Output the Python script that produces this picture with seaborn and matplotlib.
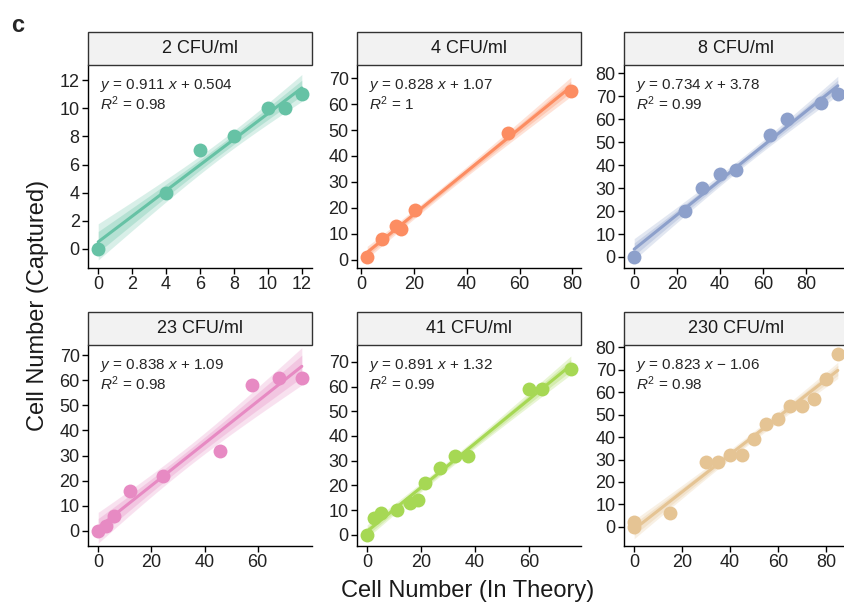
import math
import numpy as np
import pandas as pd
import matplotlib
matplotlib.use("Agg")
import matplotlib.pyplot as plt
from matplotlib.patches import Rectangle
import seaborn as sns

sns.set_style("white")
plt.rcParams['font.family'] = ['Liberation Sans', 'DejaVu Sans']
plt.rcParams['mathtext.fontset'] = 'custom'
plt.rcParams['mathtext.rm'] = 'Liberation Sans'
plt.rcParams['mathtext.it'] = 'Liberation Sans:italic'

# ---- data ----
titles = ["2 CFU/ml", "4 CFU/ml", "8 CFU/ml", "23 CFU/ml", "41 CFU/ml", "230 CFU/ml"]
colors = ["#66C2A5", "#FC8D62", "#8DA0CB", "#E78AC3", "#A6D854", "#E5C494"]
equations = [
    ("0.911", "+ 0.504", "0.98"),
    ("0.828", "+ 1.07", "1"),
    ("0.734", "+ 3.78", "0.99"),
    ("0.838", "+ 1.09", "0.98"),
    ("0.891", "+ 1.32", "0.99"),
    ("0.823", "\u2212 1.06", "0.98"),
]

x_2cfu = [0, 4, 6, 8, 10, 11, 12]
y_2cfu = [0, 4, 7, 8, 10, 10, 11]
x_4cfu = [2.3, 8, 13.3, 15, 20.3, 55.6, 79.4]
y_4cfu = [1, 8, 13, 12, 19, 49, 65]
x_8cfu = [0, 23.9, 31.7, 39.8, 47.3, 63.5, 71.3, 87, 94.9]
y_8cfu = [0, 20, 30, 36, 38, 53, 60, 67, 71]
x_23cfu = [0, 3, 6, 12, 24.5, 46, 58, 68, 76.6]
y_23cfu = [0, 2, 6, 16, 22, 32, 58, 61, 61]
x_41cfu = [0, 2.5, 5, 11, 16, 19, 21.5, 27, 32.5, 37.5, 60, 65, 75.5]
y_41cfu = [0, 7, 9, 10, 13, 14, 21, 27, 32, 32, 59, 59, 67]
x_230cfu = [0, 0, 15, 30, 35, 40, 45, 50, 55, 60, 65, 70, 75, 80, 85]
y_230cfu = [2, 0, 6, 29, 29, 32, 32, 39, 46, 48, 54, 54, 57, 66, 77]

xs = [x_2cfu, x_4cfu, x_8cfu, x_23cfu, x_41cfu, x_230cfu]
ys = [y_2cfu, y_4cfu, y_8cfu, y_23cfu, y_41cfu, y_230cfu]

xticks = [np.arange(0, 13, 2), np.arange(0, 81, 20), np.arange(0, 81, 20),
          np.arange(0, 61, 20), np.arange(0, 61, 20), np.arange(0, 81, 20)]
yticks = [np.arange(0, 13, 2), np.arange(0, 71, 10), np.arange(0, 81, 10),
          np.arange(0, 71, 10), np.arange(0, 71, 10), np.arange(0, 81, 10)]
ylims = [(-1.35, 13.07), (-3.2, 75.1), (-4.8, 83.6), (-6, 74), (-4.5, 76.8), (-8.5, 81)]


def t_quantile(p, nu):
    """Student-t quantile by numeric integration + bisection."""
    c = math.gamma((nu + 1) / 2) / (math.sqrt(nu * math.pi) * math.gamma(nu / 2))

    def cdf(t):
        g = np.linspace(0, t, 4001)
        f = c * (1 + g ** 2 / nu) ** (-(nu + 1) / 2)
        return 0.5 + np.trapezoid(f, g)

    lo, hi = 0.0, 50.0
    for _ in range(80):
        mid = (lo + hi) / 2
        if cdf(mid) < p:
            lo = mid
        else:
            hi = mid
    return (lo + hi) / 2


def lm_band(x, y, level, grid):
    x = np.asarray(x, float)
    y = np.asarray(y, float)
    n = len(x)
    b, a = np.polyfit(x, y, 1)
    resid = y - (a + b * x)
    s = np.sqrt(np.sum(resid ** 2) / (n - 2))
    sxx = np.sum((x - x.mean()) ** 2)
    se = s * np.sqrt(1 / n + (grid - x.mean()) ** 2 / sxx)
    t = t_quantile(0.5 + level / 2, n - 2)
    yhat = a + b * grid
    return yhat - t * se, yhat + t * se


# ---- layout ----
W, H = 844, 606
fig = plt.figure(figsize=(W / 100, H / 100), dpi=100)
lefts = [88, 357, 624]
pw = 224
row_top = [65, 345]
row_bot = [268, 546]

for i in range(6):
    r, c = divmod(i, 3)
    ph = row_bot[r] - row_top[r]
    ax = fig.add_axes([lefts[c] / W, 1 - row_bot[r] / H, pw / W, ph / H])
    df = pd.DataFrame({"x": xs[i], "y": ys[i]})
    grid = np.linspace(min(xs[i]), max(xs[i]), 100)
    lo_o, hi_o = lm_band(xs[i], ys[i], 0.95, grid)
    lo_i, hi_i = lm_band(xs[i], ys[i], 0.80, grid)
    ax.fill_between(grid, lo_o, hi_o, color=colors[i], alpha=0.25, lw=0, zorder=1)
    ax.fill_between(grid, lo_i, hi_i, color=colors[i], alpha=0.3, lw=0, zorder=2)
    sns.regplot(data=df, x="x", y="y", ax=ax, ci=None, color=colors[i],
                scatter_kws={"s": 100, "alpha": 1, "linewidths": 0, "zorder": 4},
                line_kws={"lw": 2.2, "zorder": 3})
    xmin, xmax = min(xs[i]), max(xs[i])
    pad = (xmax - xmin) * 0.05
    ax.set_xlim(xmin - pad, xmax + pad)
    ax.set_ylim(*ylims[i])
    ax.set_xticks(xticks[i])
    ax.set_yticks(yticks[i])
    ax.set_xlabel("")
    ax.set_ylabel("")
    for s in ["top", "right"]:
        ax.spines[s].set_visible(False)
    for s in ["left", "bottom"]:
        ax.spines[s].set_color("black")
        ax.spines[s].set_linewidth(1.0)
    ax.tick_params(axis="both", which="major", direction="out", length=4, width=1,
                   color="black", labelsize=13, labelcolor="#222222", pad=2,
                   bottom=True, left=True)
    # strip
    sh = 33 / ph
    ax.add_patch(Rectangle((0, 1), 1, sh, transform=ax.transAxes, clip_on=False,
                           facecolor="#F2F2F2", edgecolor="#333333", lw=1.0, zorder=5))
    ax.text(0.5, 1 + sh / 2, titles[i], transform=ax.transAxes, ha="center",
            va="center", fontsize=13, color="#1a1a1a", zorder=6)
    slope, icpt, r2 = equations[i]
    ax.text(12 / pw, 1 - 20 / ph, r"$y$ = " + slope + r" $x$ " + icpt,
            transform=ax.transAxes, ha="left", va="center", fontsize=11, zorder=7)
    ax.text(12 / pw, 1 - 39 / ph, r"$R^2$ = " + r2,
            transform=ax.transAxes, ha="left", va="center", fontsize=11, zorder=7)

fig.text(11 / W, 1 - 25 / H, "c", fontsize=17, fontweight="bold", ha="left", va="center")
fig.text(468 / W, 1 - 591 / H, "Cell Number (In Theory)", fontsize=17,
         ha="center", va="center", color="#1a1a1a")
fig.text(38 / W, 1 - 305 / H, "Cell Number (Captured)", fontsize=17, rotation=90,
         ha="center", va="center", color="#1a1a1a")

fig.savefig("out.png", dpi=100)
